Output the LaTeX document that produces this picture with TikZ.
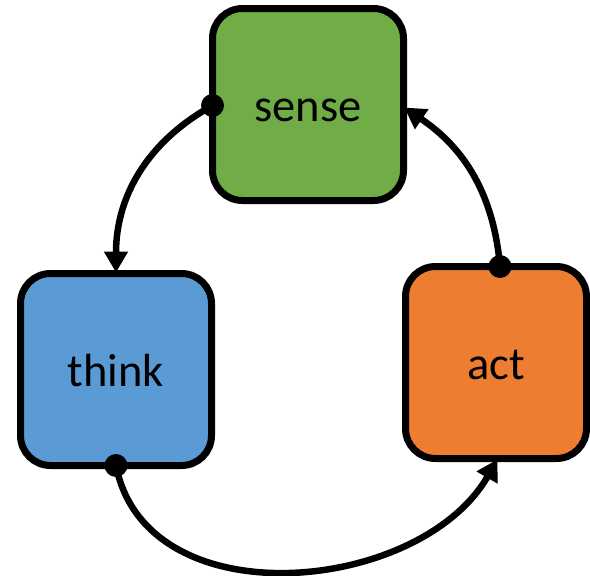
\documentclass[tikz,border=0pt]{standalone}
\usepackage{fontspec}
\setmainfont{Carlito}
\usetikzlibrary{arrows.meta}
\definecolor{sensegreen}{HTML}{70AD47}
\definecolor{thinkblue}{HTML}{5B9BD5}
\definecolor{actorange}{HTML}{ED7D31}
\tikzset{
  box/.style={draw=black, line width=7pt, rounded corners=30pt, outer sep=0pt,
    minimum height=192pt, inner sep=0pt, font=\fontsize{46.5}{50}\selectfont,
    text height=33pt, text depth=0pt},
  conn/.style={line width=6.5pt, -{Triangle[length=21pt,width=23pt]}, shorten >=1pt},
  dot/.style={fill=black}
}
\begin{document}
\begin{tikzpicture}[x=1pt,y=-1pt]
\useasboundingbox (0,0) rectangle (590,576);
\node[box, fill=sensegreen, minimum width=191pt] (sense) at (308,104.5) {sense};
\node[box, fill=thinkblue, minimum width=191pt] (think) at (116,369.5) {think};
\node[box, fill=actorange, minimum width=181pt] (act) at (496,362.5) {act};
\coordinate (s1) at ([yshift=-1pt]sense.west);
\coordinate (t1) at (think.south);
\coordinate (a1) at ([xshift=4pt]act.north);
\draw[conn] (s1) to[out=209,in=90] (think.north);
\draw[conn] (a1) to[out=95,in=-34] ([yshift=-2.5pt]sense.east);
\draw[conn] (t1) to[out=-79,in=240,looseness=1.05] ([xshift=2pt]act.south);
\fill[dot] (s1) circle (11.5pt);
\fill[dot] (t1) circle (11.5pt);
\fill[dot] (a1) circle (11.5pt);
\end{tikzpicture}
\end{document}
